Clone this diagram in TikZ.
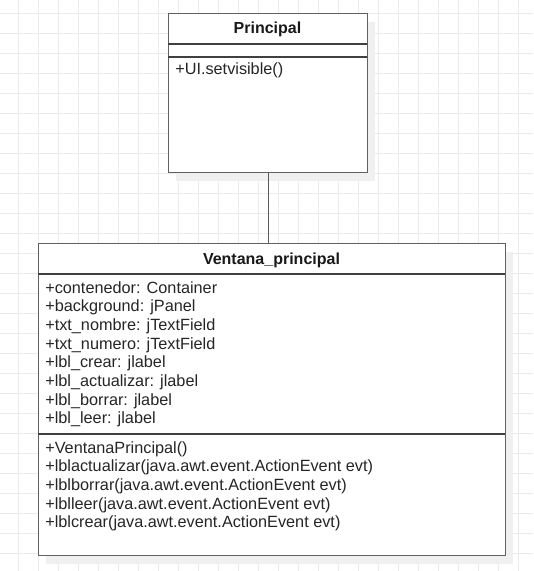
\documentclass[tikz,border=0pt]{standalone}
\usepackage{fontspec}
\setmainfont{Liberation Sans}
\begin{document}
\begin{tikzpicture}[x=0.75pt,y=-0.75pt,
  gridline/.style={draw=black!8, line width=0.75pt},
  umlbox/.style={draw=black!62, line width=1.1pt, fill=white, inner sep=0pt, anchor=north west},
  divider/.style={draw=black!75, line width=0.8pt},
  txt/.style={anchor=base west, inner sep=0pt, font=\fontsize{12.2pt}{14pt}\selectfont, text=black!85},
  ttl/.style={anchor=base, inner sep=0pt, font=\fontsize{12pt}{14pt}\selectfont\bfseries, text=black!90},
  conn/.style={draw=black!65, line width=1pt}]
\useasboundingbox (0,0) rectangle (533,571);
\fill[white] (0,0) rectangle (533,571);
\foreach \x in {18,38,...,518} \draw[gridline] (\x,0) -- (\x,571);
\foreach \y in {13,33,...,553} \draw[gridline] (0,\y) -- (533,\y);
% shadows
\fill[black!6] (176,22) rectangle (375,181);
\fill[black!6] (46,252) rectangle (513,564);
% Principal
\node[umlbox, minimum width=149.25pt, minimum height=119.25pt] (principal) at (168,13) {};
\draw[divider] (168,44) -- (367,44);
\draw[divider] (168,57) -- (367,57);
\node[ttl] (ptitle) at (267.5,33) {Principal};
\node[txt] (pm1) at (175,74) {+UI.setvisible()};
% Ventana
\node[umlbox, minimum width=350.25pt, minimum height=234pt] (ventana) at (38,243) {};
\draw[divider] (38,274) -- (505,274);
\draw[divider] (38,434) -- (505,434);
\node[ttl] (vtitle) at (271.5,264) {Ventana\_principal};
\foreach \t [count=\i from 0] in {{+contenedor: Container},{+background: jPanel},{+txt\_nombre: jTextField},{+txt\_numero: jTextField},{+lbl\_crear: jlabel},{+lbl\_actualizar: jlabel},{+lbl\_borrar: jlabel},{+lbl\_leer: jlabel}}
  \node[txt] (va\i) at (45,293+18.7*\i) {\t};
\foreach \t [count=\i from 0] in {{+VentanaPrincipal()},{+lblactualizar(java.awt.event.ActionEvent evt)},{+lblborrar(java.awt.event.ActionEvent evt)},{+lblleer(java.awt.event.ActionEvent evt)},{+lblcrear(java.awt.event.ActionEvent evt)}}
  \node[txt] (vm\i) at (45,453+18.7*\i) {\t};
% connector
\draw[conn] (principal.south) -- (principal.south |- ventana.north);
\end{tikzpicture}
\end{document}
